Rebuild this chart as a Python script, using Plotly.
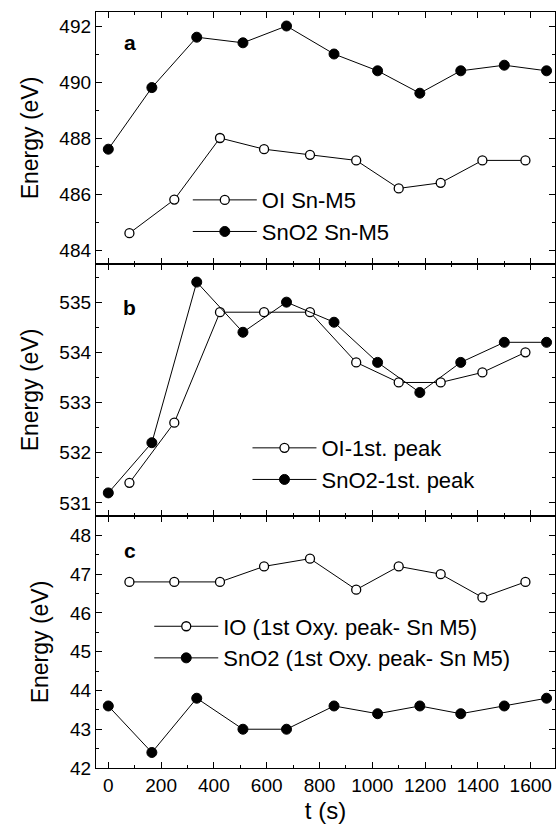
import plotly.graph_objects as go
from plotly.subplots import make_subplots

# time axes (s)
t_open = [80, 250, 423, 590, 764, 939, 1100, 1259, 1417, 1580]
t_filled = [0, 165, 335, 510, 675, 855, 1020, 1180, 1335, 1500, 1660]

# panel a: Sn-M5 energy (eV)
a_oi = [484.6, 485.8, 488.0, 487.6, 487.4, 487.2, 486.2, 486.4, 487.2, 487.2]
a_sno2 = [487.6, 489.8, 491.6, 491.4, 492.0, 491.0, 490.4, 489.6, 490.4, 490.6, 490.4]
# panel b: 1st oxygen peak (eV)
b_oi = [531.4, 532.6, 534.8, 534.8, 534.8, 533.8, 533.4, 533.4, 533.6, 534.0]
b_sno2 = [531.2, 532.2, 535.4, 534.4, 535.0, 534.6, 533.8, 533.2, 533.8, 534.2, 534.2]
# panel c: difference (eV)
c_io = [46.8, 46.8, 46.8, 47.2, 47.4, 46.6, 47.2, 47.0, 46.4, 46.8]
c_sno2 = [43.6, 42.4, 43.8, 43.0, 43.0, 43.6, 43.4, 43.6, 43.4, 43.6, 43.8]

names = [("OI Sn-M5", "SnO2 Sn-M5"),
         ("OI-1st. peak", "SnO2-1st. peak"),
         ("IO (1st Oxy. peak- Sn M5)", "SnO2 (1st Oxy. peak- Sn M5)")]
open_series = [a_oi, b_oi, c_io]
filled_series = [a_sno2, b_sno2, c_sno2]
letters = ["a", "b", "c"]

FONT = "Liberation Sans, Arial, Helvetica, sans-serif"

fig = make_subplots(rows=3, cols=1, shared_xaxes=True, vertical_spacing=0)

legend_keys = ["legend", "legend2", "legend3"]
for i in range(3):
    fig.add_trace(go.Scatter(
        x=t_open, y=open_series[i], mode="lines+markers", name=names[i][0],
        line=dict(color="black", width=1),
        marker=dict(symbol="circle", size=9, color="white",
                    line=dict(color="black", width=1.3)),
        legend=legend_keys[i]), row=i + 1, col=1)
    fig.add_trace(go.Scatter(
        x=t_filled, y=filled_series[i], mode="lines+markers", name=names[i][1],
        line=dict(color="black", width=1),
        marker=dict(symbol="circle", size=10, color="black",
                    line=dict(color="black", width=1)),
        legend=legend_keys[i]), row=i + 1, col=1)

axis_common = dict(showline=True, linecolor="black", linewidth=1.3, mirror="ticks",
                   ticks="inside", ticklen=6, tickwidth=1.2, tickcolor="black",
                   showgrid=False, zeroline=False,
                   tickfont=dict(family=FONT, size=19, color="black"))

for i in range(3):
    fig.update_xaxes(range=[-46.6, 1692], tick0=0, dtick=200,
                     minor=dict(dtick=100, ticks="inside", ticklen=3, tickwidth=1.2,
                                tickcolor="black"),
                     row=i + 1, col=1, **axis_common)

yranges = [[483.5, 492.5], [530.74, 535.76], [42.0, 48.5]]
ydticks = [2, 1, 1]
yminor = [1, 0.5, 0.5]
for i in range(3):
    fig.update_yaxes(range=yranges[i], dtick=ydticks[i], tick0=0,
                     minor=dict(dtick=yminor[i], tick0=0, ticks="inside", ticklen=3,
                                tickwidth=1.2, tickcolor="black"),
                     title=dict(text="Energy (eV)", standoff=14,
                                font=dict(family=FONT, size=23, color="black")),
                     row=i + 1, col=1, **axis_common)

fig.update_xaxes(title=dict(text="t (s)", standoff=7,
                            font=dict(family=FONT, size=24, color="black")),
                 row=3, col=1)

letter_pos = [(0.074, 0.877), (0.074, 0.827), (0.074, 0.865)]
yrefs = ["y domain", "y2 domain", "y3 domain"]
xrefs = ["x domain", "x2 domain", "x3 domain"]
for i in range(3):
    fig.add_annotation(text="<b>%s</b>" % letters[i], xref=xrefs[i], yref=yrefs[i],
                       x=letter_pos[i][0], y=letter_pos[i][1], showarrow=False,
                       xanchor="center", yanchor="middle",
                       font=dict(family=FONT, size=21, color="black"))

leg_common = dict(bgcolor="rgba(0,0,0,0)", borderwidth=0, xanchor="left", yanchor="top",
                  font=dict(family=FONT, size=22, color="black"), itemwidth=64,
                  tracegroupgap=0)
fig.update_layout(
    width=557, height=833,
    margin=dict(l=96, r=2, t=12, b=65),
    paper_bgcolor="white", plot_bgcolor="white",
    font=dict(family=FONT, color="black"),
    legend=dict(x=0.2, y=0.779, **leg_common),
    legend2=dict(x=0.33, y=0.451, **leg_common),
    legend3=dict(x=0.116, y=0.215, **leg_common),
)

fig.write_html("out.html", config={"displayModeBar": False},
               post_script="document.body.style.margin='0';document.body.style.overflow='hidden';")
